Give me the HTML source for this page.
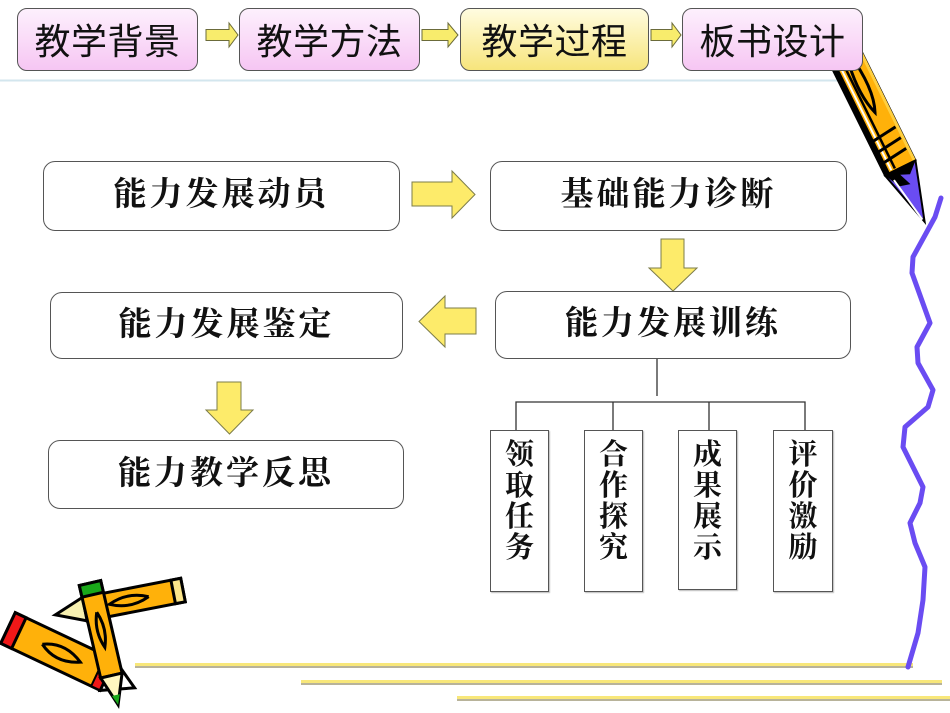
<!DOCTYPE html>
<html><head><meta charset="utf-8">
<style>
html,body{margin:0;padding:0;background:#fff;}
body{width:950px;height:713px;position:relative;overflow:hidden;}
.tab{position:absolute;top:8px;border:1.5px solid #555;border-radius:10px;box-sizing:border-box;height:63px;
 font-family:"Liberation Sans","Noto Sans CJK SC",sans-serif;font-size:36px;letter-spacing:0.5px;color:#111;
 display:flex;align-items:center;justify-content:center;padding-bottom:1px;}
.pink{background:linear-gradient(#fdf0fd,#f6c6f3);}
.yel{background:linear-gradient(#fffce0,#f7e57c);}
.box{position:absolute;border:1.3px solid #555;border-radius:12px;box-sizing:border-box;background:#fff;
 font-family:"Liberation Serif","Noto Serif CJK SC",serif;font-weight:700;font-size:33px;letter-spacing:3px;color:#111;
 display:flex;align-items:center;justify-content:center;padding-bottom:9px;}
.sb{position:absolute;top:430px;height:162px;width:59px;border:1.5px solid #555;box-sizing:border-box;background:#fff;
 font-family:"Liberation Serif","Noto Serif CJK SC",serif;font-weight:700;font-size:29px;line-height:31px;color:#111;
 text-align:center;padding-top:9px;box-shadow:1px 1px 1px #bbb;}
svg{position:absolute;left:0;top:0;}
</style></head><body>

<svg width="950" height="713" style="z-index:0">
  <!-- separator -->
  <line x1="0" y1="80.5" x2="865" y2="80.5" stroke="#d3e6ee" stroke-width="2"/>
  <!-- bottom lines -->
  <rect x="135" y="663" width="778" height="3" fill="#f8e77a"/>
  <rect x="135" y="666" width="778" height="2" fill="#b8b39a"/>
  <rect x="301" y="680" width="641" height="3" fill="#f8e77a"/>
  <rect x="301" y="683" width="641" height="2" fill="#b8b39a"/>
  <rect x="457" y="696" width="493" height="3" fill="#f8e77a"/>
  <rect x="457" y="699" width="493" height="2" fill="#b8b39a"/>

  <!-- small tab arrows -->
  <g fill="#f8ec6c" stroke="#6b6b3a" stroke-width="1">
    <polygon points="206,29.5 229,29.5 229,23 238,35 229,47 229,40.5 206,40.5"/>
    <polygon points="422,29.5 448,29.5 448,23 458,35 448,47 448,40.5 422,40.5"/>
    <polygon points="651,29.5 672,29.5 672,23 681,35 672,47 672,40.5 651,40.5"/>
  </g>

  <!-- big arrows -->
  <g fill="#fdeb6a" stroke="#7c7c4a" stroke-width="1">
    <polygon points="412,182 452,182 452,171 475,194.5 452,218 452,206 412,206"/>
    <polygon points="661,239 684,239 684,268 697,268 673,291 649,268 661,268"/>
    <polygon points="476,308 445,308 445,296 419,321.5 445,347 445,334 476,334"/>
    <polygon points="217,382 241,382 241,410 253,410 229.5,434 206,410 217,410"/>
  </g>

  <!-- tree connectors -->
  <g stroke="#333" stroke-width="1.3" fill="none">
    <line x1="657" y1="359" x2="657" y2="396"/>
    <polyline points="516,430 516,402 805,402 805,430"/>
    <line x1="613" y1="402" x2="613" y2="430"/>
    <line x1="709" y1="402" x2="709" y2="430"/>
  </g>

  <!-- purple wave -->
  <polyline fill="none" stroke="#6a4cf2" stroke-width="5" stroke-linejoin="round" stroke-linecap="round"
    points="941,198 935,217 913,257 912,273 930,323 917,347 918,363 933,390 928,407 905,427 903,447 923,487 920,503 910,523 915,543 925,567 923,600 918,633 908,667"/>

  <!-- top right pencil -->
  <g transform="translate(836,38) rotate(63.7)">
    <polygon points="0,-17 145,-17 145,17 0,17" fill="#ffb10a" stroke="#000" stroke-width="2"/>
    <line x1="0" y1="-16" x2="145" y2="-16" stroke="#ffcf40" stroke-width="3"/>
    <line x1="0" y1="14" x2="145" y2="14" stroke="#000" stroke-width="5"/>
    <line x1="0" y1="9" x2="143" y2="9" stroke="#fff" stroke-width="2"/>
    <line x1="0" y1="5" x2="143" y2="5" stroke="#000" stroke-width="2.5"/>
    <path d="M20,-5 Q62,-12 84,-2 Q62,5 30,0" fill="none" stroke="#000" stroke-width="3"/>
    <path d="M106,-14 L109,12 M118,-14 L121,12 M130,-14 L133,12" stroke="#000" stroke-width="3"/>
    <polygon points="145,-17 145,17 204,2" fill="#6a4cf2" stroke="#000" stroke-width="2"/>
    <polygon points="145,-17 155,-6 151,3 164,-2 161,9 145,17" fill="#000"/>
    <line x1="153" y1="11" x2="201" y2="3" stroke="#fff" stroke-width="2"/>
  </g>

  <!-- bottom-left pencils -->
  <!-- pencil C -->
  <g transform="translate(183,590) rotate(169)">
    <rect x="0" y="-12" width="100" height="24" fill="#ffb10a" stroke="#000" stroke-width="3"/>
    <rect x="0" y="-12" width="10" height="24" fill="#fbe58a" stroke="#000" stroke-width="3"/>
    <path d="M35,0 Q55,-9 75,0 Q55,9 35,0" fill="none" stroke="#000" stroke-width="3"/>
    <polygon points="100,-12 100,12 130,0" fill="#f7f0b0" stroke="#000" stroke-width="3"/>
  </g>
  <!-- pencil A -->
  <g transform="translate(8,628) rotate(25.3)">
    <rect x="0" y="-17" width="110" height="34" fill="#ffb10a" stroke="#000" stroke-width="3"/>
    <rect x="0" y="-17" width="12" height="34" fill="#f01818" stroke="#000" stroke-width="3"/>
    <path d="M38,0 Q58,-12 80,0 Q58,12 38,0" fill="none" stroke="#000" stroke-width="3"/>
    <rect x="100" y="-17" width="10" height="34" fill="#f01818" stroke="#000" stroke-width="2"/>
    <polygon points="110,-17 110,17 140,0" fill="#fff" stroke="#000" stroke-width="3"/>
  </g>
  <!-- pencil B -->
  <g transform="translate(90,583) rotate(77)">
    <rect x="0" y="-11" width="95" height="22" fill="#ffb10a" stroke="#000" stroke-width="3"/>
    <rect x="0" y="-11" width="12" height="22" fill="#1aa81a" stroke="#000" stroke-width="3"/>
    <path d="M30,0 Q48,-7 66,0 Q48,7 30,0" fill="none" stroke="#000" stroke-width="3"/>
    <polygon points="95,-11 95,11 125,0" fill="#fff7c0" stroke="#000" stroke-width="3"/>
    <polygon points="115,-4 115,4 125,0" fill="#1aa81a"/>
  </g>
</svg>

<div class="tab pink" style="left:17px;width:181px;">教学背景</div>
<div class="tab pink" style="left:239px;width:181px;">教学方法</div>
<div class="tab yel" style="left:460px;width:189px;">教学过程</div>
<div class="tab pink" style="left:682px;width:181px;">板书设计</div>

<div class="box" style="left:43px;top:161px;width:357px;height:70px;">能力发展动员</div>
<div class="box" style="left:490px;top:161px;width:357px;height:70px;">基础能力诊断</div>
<div class="box" style="left:495px;top:291px;width:356px;height:68px;">能力发展训练</div>
<div class="box" style="left:50px;top:292px;width:353px;height:67px;">能力发展鉴定</div>
<div class="box" style="left:48px;top:440px;width:356px;height:69px;">能力教学反思</div>

<div class="sb" style="left:490px;">领<br>取<br>任<br>务</div>
<div class="sb" style="left:584px;">合<br>作<br>探<br>究</div>
<div class="sb" style="left:678px;height:160px;">成<br>果<br>展<br>示</div>
<div class="sb" style="left:773px;width:60px;">评<br>价<br>激<br>励</div>

</body></html>
